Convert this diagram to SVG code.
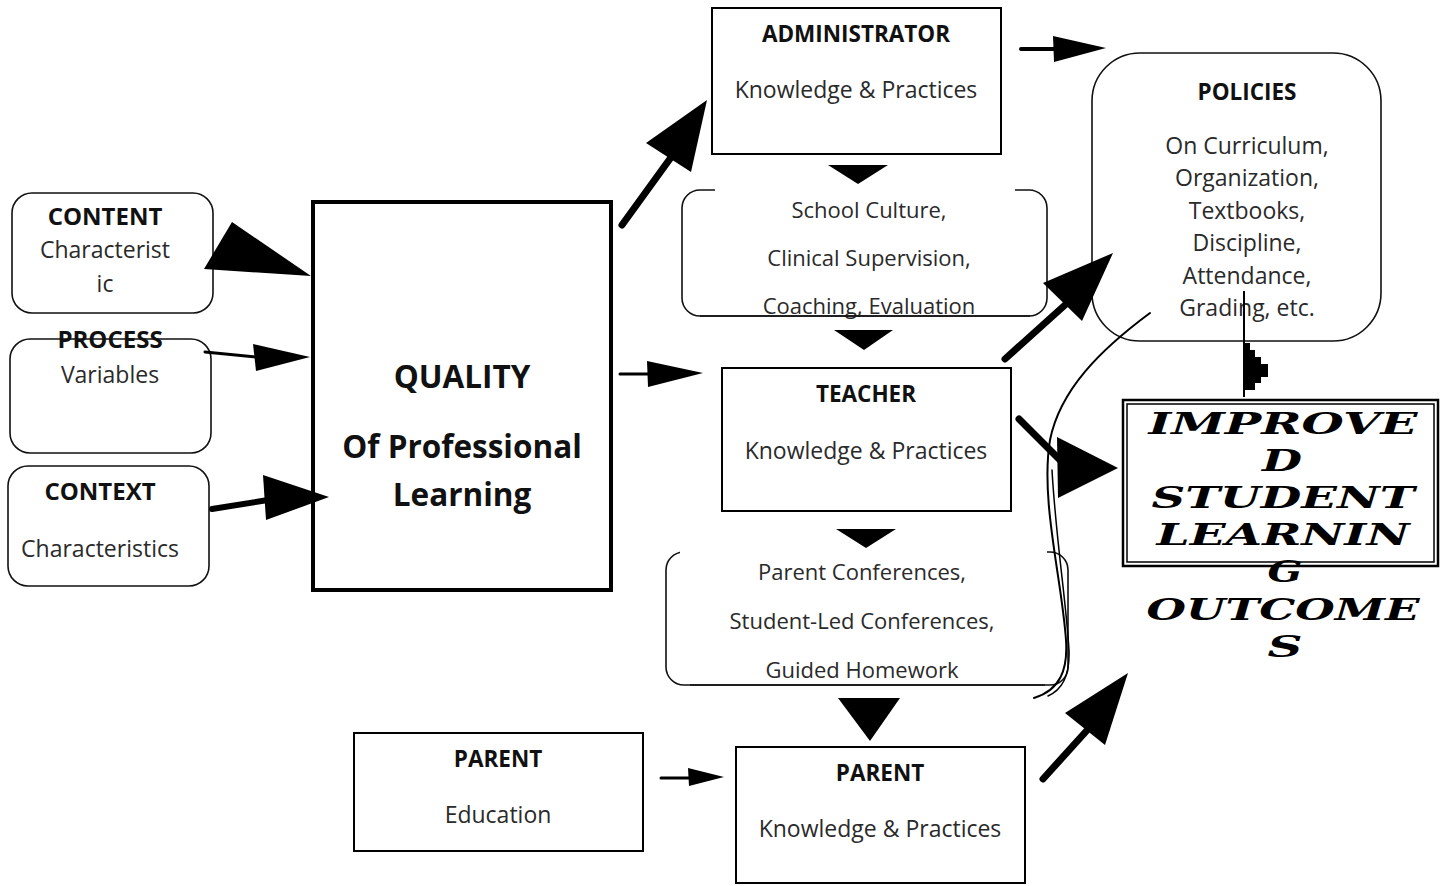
<svg xmlns="http://www.w3.org/2000/svg" width="1442" height="886" viewBox="0 0 1442 886">
<style>
.box{fill:none;stroke:#000;stroke-width:2}
.rbox{fill:none;stroke:#111;stroke-width:1.6}
.t{font-family:"Open Sans","Liberation Sans",sans-serif;font-size:23px;fill:#2a2a2a;text-anchor:middle}
.b{font-family:"Open Sans","Liberation Sans",sans-serif;font-size:22.5px;font-weight:bold;fill:#111;text-anchor:middle}
.lb{font-size:24px}
.q{font-family:"Open Sans","Liberation Sans",sans-serif;font-size:31.5px;font-weight:bold;fill:#111;text-anchor:middle}
.s{font-family:"Open Sans","Liberation Sans",sans-serif;font-size:22px;fill:#2a2a2a;text-anchor:middle}
.h{font-family:"DejaVu Serif","Liberation Serif",serif;font-size:30px;font-weight:bold;font-style:italic;fill:#000;text-anchor:middle}
.ln{fill:none;stroke:#000;stroke-linecap:round}
.hd{fill:#000;stroke:none}
</style>

<g id="content">
<rect class="rbox" x="12" y="193" width="201" height="120" rx="20"/>
<text class="b lb" x="105" y="225">CONTENT</text>
<text class="t" x="105" y="258">Characterist</text>
<text class="t" x="105" y="292">ic</text>
</g>
<g id="process">
<text class="b lb" x="110" y="348">PROCESS</text>
<text class="t" x="110" y="383">Variables</text>
<rect class="rbox" x="10" y="339" width="201" height="114" rx="20"/>
</g>
<g id="context">
<rect class="rbox" x="8" y="466" width="201" height="120" rx="20"/>
<text class="b lb" x="100" y="500">CONTEXT</text>
<text class="t" x="100" y="557">Characteristics</text>
</g>
<g id="quality">
<rect x="313" y="202" width="298" height="388" fill="none" stroke="#000" stroke-width="4"/>
<text class="q" x="462" y="388">QUALITY</text>
<text class="q" x="462" y="458">Of Professional</text>
<text class="q" x="462" y="506">Learning</text>
</g>
<g id="administrator">
<rect class="box" x="712" y="8" width="289" height="146"/>
<text class="b" x="856" y="42">ADMINISTRATOR</text>
<text class="t" x="856" y="98">Knowledge &amp; Practices</text>
</g>
<g id="school">
<rect class="rbox" x="682" y="190" width="365" height="126" rx="18"/>
<rect x="715" y="186" width="300" height="8" fill="#fff"/>
<text class="s" x="869" y="218">School Culture,</text>
<text class="s" x="869" y="266">Clinical Supervision,</text>
<text class="s" x="869" y="314">Coaching, Evaluation</text>
<line x1="700" y1="316" x2="1030" y2="316" stroke="#111" stroke-width="1.6"/>
</g>
<g id="teacher">
<rect class="box" x="722" y="368" width="289" height="143"/>
<text class="b" x="866" y="402">TEACHER</text>
<text class="t" x="866" y="459">Knowledge &amp; Practices</text>
</g>
<g id="parentconf">
<rect class="rbox" x="666" y="552" width="402" height="133" rx="18"/>
<rect x="680" y="548" width="367" height="8" fill="#fff"/>
<text class="s" x="862" y="580">Parent Conferences,</text>
<text class="s" x="862" y="629">Student-Led Conferences,</text>
<text class="s" x="862" y="678">Guided Homework</text>
<line x1="690" y1="685" x2="1045" y2="685" stroke="#111" stroke-width="1.6"/>
</g>
<g id="parentedu">
<rect class="box" x="354" y="733" width="289" height="118"/>
<text class="b" x="498" y="767">PARENT</text>
<text class="t" x="498" y="823">Education</text>
</g>
<g id="parentkp">
<rect class="box" x="736" y="747" width="289" height="136"/>
<text class="b" x="880" y="781">PARENT</text>
<text class="t" x="880" y="837">Knowledge &amp; Practices</text>
</g>
<g id="policies">
<rect class="rbox" x="1092" y="53" width="289" height="288" rx="48"/>
<text class="b" x="1247" y="100">POLICIES</text>
<text class="t" x="1247" y="154">On Curriculum,</text>
<text class="t" x="1247" y="186">Organization,</text>
<text class="t" x="1247" y="219">Textbooks,</text>
<text class="t" x="1247" y="251">Discipline,</text>
<text class="t" x="1247" y="284">Attendance,</text>
<text class="t" x="1247" y="316">Grading, etc.</text>
</g>
<g id="improved">
<rect x="1123" y="400" width="315" height="166" fill="#fff" stroke="#000" stroke-width="2.5"/>
<rect x="1127" y="404" width="307" height="158" fill="none" stroke="#000" stroke-width="1.5"/>
<text class="h" x="1283" y="434" textLength="269" lengthAdjust="spacingAndGlyphs">IMPROVE</text>
<text class="h" x="1282" y="471" textLength="40" lengthAdjust="spacingAndGlyphs">D</text>
<text class="h" x="1283" y="508" textLength="263" lengthAdjust="spacingAndGlyphs">STUDENT</text>
<text class="h" x="1283" y="545" textLength="253" lengthAdjust="spacingAndGlyphs">LEARNIN</text>
<text class="h" x="1285" y="582" textLength="35" lengthAdjust="spacingAndGlyphs">G</text>
<text class="h" x="1283" y="620" textLength="273" lengthAdjust="spacingAndGlyphs">OUTCOME</text>
<text class="h" x="1285" y="657" textLength="35" lengthAdjust="spacingAndGlyphs">S</text>
</g>

<g id="connectors">
<polygon class="hd" points="204,269 232,222 311,276"/>
<line class="ln" x1="205" y1="352" x2="256" y2="357" stroke-width="3"/>
<polygon class="hd" points="253,344 256,371 310,357"/>
<line class="ln" x1="212" y1="509" x2="268" y2="500" stroke-width="6"/>
<polygon class="hd" points="263,475 266,520 329,497"/>
<line class="ln" x1="622" y1="225" x2="672" y2="156" stroke-width="7"/>
<polygon class="hd" points="646,143 691,172 707,100"/>
<line class="ln" x1="620" y1="374" x2="650" y2="374" stroke-width="3"/>
<polygon class="hd" points="647,361 648,387 703,373"/>
<line class="ln" x1="1021" y1="49" x2="1058" y2="49" stroke-width="4"/>
<polygon class="hd" points="1053,36 1054,62 1106,48"/>
<polygon class="hd" points="828,165 888,165 858,184"/>
<polygon class="hd" points="834,330 893,330 864,350"/>
<polygon class="hd" points="836,529 896,529 866,548"/>
<polygon class="hd" points="838,698 900,698 870,741"/>
<line class="ln" x1="661" y1="778" x2="692" y2="778" stroke-width="3"/>
<polygon class="hd" points="688,768 689,786 724,777"/>
<line class="ln" x1="1005" y1="359" x2="1065" y2="305" stroke-width="7"/>
<polygon class="hd" points="1043,283 1082,321 1113,253"/>
<line class="ln" x1="1019" y1="419" x2="1065" y2="465" stroke-width="7"/>
<polygon class="hd" points="1057,437 1058,498 1118,468"/>
<line class="ln" x1="1043" y1="779" x2="1090" y2="727" stroke-width="7"/>
<polygon class="hd" points="1065,713 1105,745 1128,673"/>
<line x1="1244" y1="291" x2="1244" y2="397" stroke="#000" stroke-width="2"/>
<polygon class="hd" points="1244,343 1250,343 1250,350 1255,350 1255,357 1261,357 1261,364 1268,364 1268,377 1261,377 1261,383 1255,383 1255,390 1244,390"/>
<path class="ln" stroke-width="2" d="M1150,313 C1100,350 1060,390 1050,440 C1040,500 1062,580 1066,640 C1068,670 1060,690 1034,698"/>
<path class="ln" stroke-width="1.5" d="M1052,470 C1056,540 1066,600 1069,650 C1070,675 1062,690 1048,696"/>
</g>
</svg>
